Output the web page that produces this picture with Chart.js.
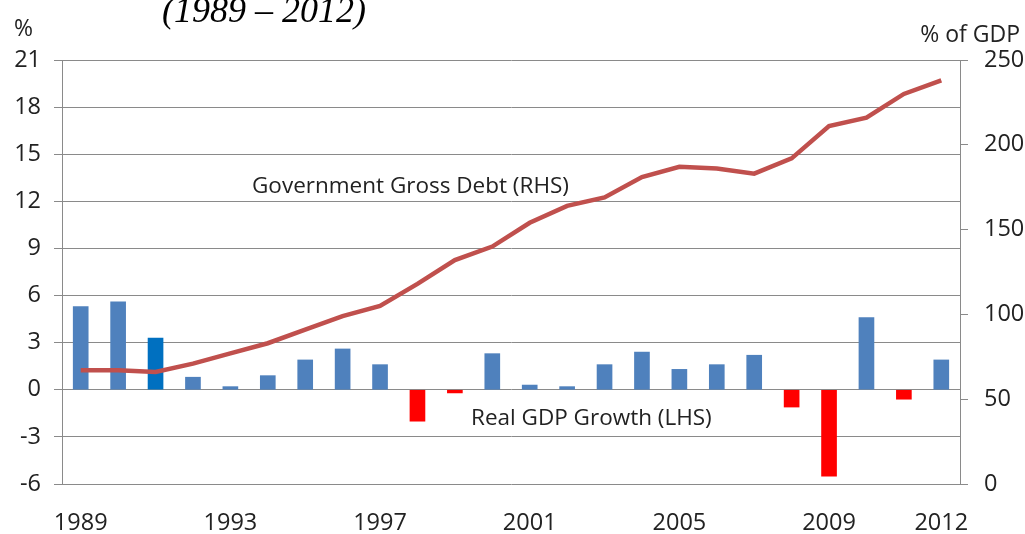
<!DOCTYPE html>
<html>
<head>
<meta charset="utf-8">
<script src="https://cdn.jsdelivr.net/npm/chart.js@4"></script>
<style>
  html, body { margin: 0; padding: 0; background: #fff; }
  #wrap { width: 1025px; height: 534px; }
</style>
</head>
<body>
<div id="wrap"><canvas id="c" width="1025" height="534"></canvas></div>
<script>
// Years shown along the category axis
const years = ['1989','1990','1991','1992','1993','1994','1995','1996','1997','1998','1999','2000',
               '2001','2002','2003','2004','2005','2006','2007','2008','2009','2010','2011','2012'];
// Real GDP growth, % (left axis)
const gdpGrowth = [5.3, 5.6, 3.3, 0.8, 0.2, 0.9, 1.9, 2.6, 1.6, -2.0, -0.2, 2.3,
                   0.3, 0.2, 1.6, 2.4, 1.3, 1.6, 2.2, -1.1, -5.5, 4.6, -0.6, 1.9];
// Government gross debt, % of GDP (right axis)
const grossDebt = [67, 67, 66, 71, 77, 83, 91, 99, 105, 118, 132, 140,
                   154, 164, 169, 181, 187, 186, 183, 192, 211, 216, 230, 238];
// Years that carry a visible label
const labelledYears = ['1989','1993','1997','2001','2005','2009','2012'];
const leftTicks = { min: -6, max: 21, step: 3 };
const rightTicks = { min: 0, max: 250, step: 50 };

const FONT = '"Open Sans", sans-serif';
const GRID = '#8a8a8a';
const TICK_SIZE = 23.5;

const barColors = gdpGrowth.map((v, i) => v < 0 ? '#ff0000' : (years[i] === '1991' ? '#0070c0' : '#4f81bd'));

const textPlugin = {
  id: 'chartText',
  afterDraw(chart) {
    const ctx = chart.ctx;
    ctx.save();
    ctx.fillStyle = '#000';
    ctx.textBaseline = 'alphabetic';
    ctx.font = 'italic 36px "Liberation Serif", "Times New Roman", serif';
    ctx.textAlign = 'left';
    ctx.fillText('(1989 \u2013 2012)', 162, 22);
    ctx.fillStyle = '#222';
    ctx.font = '23px ' + FONT;
    ctx.fillText('%', 14, 36);
    ctx.textAlign = 'right';
    ctx.fillText('% of GDP', 1020, 42);
    ctx.textAlign = 'left';
    ctx.font = '22.5px ' + FONT;
    ctx.fillText('Government Gross Debt (RHS)', 252, 193);
    ctx.fillText('Real GDP Growth (LHS)', 471, 425);
    ctx.restore();
  }
};

new Chart(document.getElementById('c'), {
  data: {
    labels: years,
    datasets: [
      {
        type: 'line',
        data: grossDebt,
        yAxisID: 'y2',
        borderColor: '#c0504d',
        borderWidth: 4.5,
        pointRadius: 0,
        tension: 0,
        order: 0
      },
      {
        type: 'bar',
        data: gdpGrowth,
        yAxisID: 'y',
        backgroundColor: barColors,
        barThickness: 15,
        order: 1
      }
    ]
  },
  options: {
    responsive: false,
    animation: false,
    layout: { padding: { top: 60, left: 0, right: 0, bottom: 0 } },
    plugins: { legend: { display: false }, tooltip: { enabled: false } },
    scales: {
      x: {
        offset: true,
        grid: { display: false, drawTicks: false },
        border: { display: false },
        ticks: {
          autoSkip: false,
          maxRotation: 0,
          padding: 25,
          color: '#222',
          font: { family: FONT, size: TICK_SIZE },
          callback(value) {
            const lbl = this.getLabelForValue(value);
            return labelledYears.includes(lbl) ? lbl : '';
          }
        },
        afterFit(scale) { scale.height = 50; }
      },
      y: {
        position: 'left',
        min: leftTicks.min,
        max: leftTicks.max,
        grid: { color: GRID, lineWidth: 1, tickLength: 8, tickColor: GRID },
        border: { color: GRID, width: 1 },
        ticks: {
          stepSize: leftTicks.step,
          padding: 13,
          color: '#222',
          font: { family: FONT, size: TICK_SIZE }
        },
        afterFit(scale) { scale.width = 62; }
      },
      y2: {
        position: 'right',
        min: rightTicks.min,
        max: rightTicks.max,
        grid: { drawOnChartArea: false, tickLength: 8, tickColor: GRID },
        border: { color: GRID, width: 1 },
        ticks: {
          stepSize: rightTicks.step,
          padding: 16,
          color: '#222',
          font: { family: FONT, size: TICK_SIZE }
        },
        afterFit(scale) { scale.width = 65; }
      }
    }
  },
  plugins: [textPlugin]
});
</script>
</body>
</html>
